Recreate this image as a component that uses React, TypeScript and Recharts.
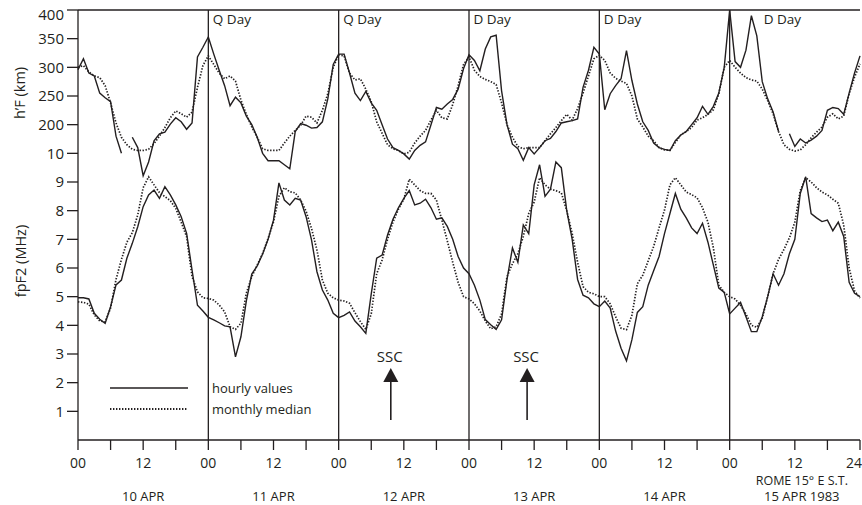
import React from 'react';
import { ComposedChart, Line, XAxis, YAxis, ReferenceLine, ReferenceDot } from 'recharts';

const INK = '#231f20';
const FONT = '"Open Sans", "Liberation Sans", sans-serif';

// h'F hourly values (km), hours 0..144 (10 APR 00 .. 15 APR 24); null = no data
const hfHourly: (number | null)[] = [
  296, 315, 290, 285, 255, 247, 240, 180, 150, null, 178, 160, 111, 135, 172, 184, 187, 201, 212, 205, 192, 203, 318, 335,
  353, 323, 295, 268, 233, 248, 238, 215, 200, 178, 150, 137, 137, 137, 130, 123, 188, 202, 199, 194, 195, 205, 245, 305,
  323, 323, 290, 255, 242, 258, 238, 225, 200, 175, 160, 155, 149, 140, 155, 164, 170, 200, 230, 227, 236, 244, 262, 298,
  322, 312, 294, 332, 353, 356, 259, 200, 166, 158, 138, 160, 149, 160, 172, 176, 188, 203, 205, 207, 210, 265, 295, 335,
  323, 226, 254, 268, 280, 329, 277, 236, 205, 190, 168, 160, 157, 155, 172, 182, 188, 200, 212, 232, 218, 232, 255, 300,
  400, 310, 300, 330, 390, 355, 275, 245, 222, 188, null, 184, 162, 175, 168, 173, 180, 190, 225, 230, 228, 218, 255, 290, 320,
];

// h'F monthly median (km)
const hfMedian: number[] = [
  300, 303, 292, 285, 282, 268, 238, 203, 178, 165, 157, 155, 155, 157, 167, 180, 195, 212, 224, 219, 213, 222, 265, 303,
  320, 305, 290, 280, 285, 276, 243, 218, 196, 178, 158, 155, 155, 155, 168, 180, 190, 199, 215, 213, 203, 225, 254, 300,
  322, 320, 290, 278, 280, 262, 240, 205, 185, 165, 158, 155, 149, 152, 168, 180, 190, 208, 225, 212, 210, 235, 268, 305,
  318, 295, 284, 279, 275, 270, 238, 200, 178, 162, 158, 160, 160, 160, 172, 184, 195, 207, 218, 208, 228, 255, 285, 315,
  321, 312, 290, 281, 276, 272, 250, 210, 196, 180, 172, 160, 156, 155, 169, 182, 188, 195, 208, 212, 218, 226, 254, 300,
  312, 300, 290, 282, 278, 276, 262, 242, 219, 188, 165, 157, 154, 156, 165, 177, 187, 196, 213, 219, 210, 215, 254, 283, 306,
];

// fpF2 hourly values (MHz)
const foHourly: number[] = [
  4.96, 4.96, 4.92, 4.42, 4.21, 4.07, 4.65, 5.41, 5.58, 6.34, 6.86, 7.44, 8.14, 8.55, 8.72, 8.43, 8.84, 8.55, 8.2, 7.79, 7.21, 5.93, 4.7, 4.5,
  4.28, 4.19, 4.09, 3.98, 3.95, 2.9, 3.6, 4.85, 5.79, 6.07, 6.49, 7.0, 7.67, 8.97, 8.37, 8.2, 8.43, 8.37, 7.79, 6.98, 5.87, 5.23, 4.88, 4.42,
  4.27, 4.35, 4.47, 4.15, 3.95, 3.72, 5.1, 6.34, 6.45, 7.15, 7.7, 8.1, 8.43, 8.7, 8.2, 8.26, 8.4, 8.1, 7.7, 7.75, 7.45, 7.0, 6.4, 6.0,
  5.8, 5.4, 4.88, 4.2, 4.02, 3.86, 4.19, 5.6, 6.7, 6.2, 7.5, 7.2, 8.9, 9.6, 8.5, 8.75, 9.7, 9.5, 8.0, 7.0, 5.6, 5.05, 4.96, 4.75,
  4.65, 4.85, 4.6, 3.8, 3.2, 2.76, 3.5, 4.45, 4.65, 5.4, 5.9, 6.4, 7.2, 7.9, 8.6, 8.05, 7.75, 7.4, 7.2, 7.56, 6.9, 6.1, 5.3, 5.15,
  4.4, 4.6, 4.8, 4.3, 3.78, 3.78, 4.3, 5.0, 5.8, 5.4, 5.8, 6.5, 7.0, 8.6, 9.18, 7.9, 7.75, 7.62, 7.67, 7.3, 7.6, 7.1, 5.5, 5.12, 5.0,
];

// fpF2 monthly median (MHz)
const foMedian: number[] = [
  4.82, 4.8, 4.74, 4.36, 4.15, 4.12, 4.6, 5.6, 6.3, 6.9, 7.23, 7.85, 8.8, 9.18, 8.9, 8.63, 8.49, 8.35, 8.08, 7.6, 7.09, 5.7, 5.17, 4.96,
  4.94, 4.88, 4.71, 4.47, 3.95, 3.86, 4.07, 5.12, 5.7, 6.1, 6.51, 7.03, 7.61, 8.5, 8.8, 8.66, 8.62, 8.37, 7.98, 7.38, 6.63, 5.58, 5.12, 4.96,
  4.88, 4.85, 4.77, 4.44, 4.13, 3.86, 4.4, 5.8, 6.28, 7.0, 7.6, 8.05, 8.4, 9.1, 8.9, 8.7, 8.6, 8.6, 8.37, 7.67, 6.95, 6.2, 5.5, 5.0,
  4.92, 4.75, 4.5, 4.15, 3.88, 3.95, 4.4, 5.7, 6.15, 6.5, 7.1, 7.9, 8.3, 9.15, 8.9, 8.75, 8.7, 8.62, 8.0, 7.2, 6.2, 5.35, 5.15, 5.1,
  5.0, 5.0, 4.75, 4.3, 3.9, 3.85, 4.35, 5.45, 5.75, 6.25, 6.75, 7.4, 8.02, 8.9, 9.15, 8.9, 8.65, 8.56, 8.45, 8.1, 7.6, 6.7, 5.4, 5.15,
  5.0, 4.92, 4.7, 4.4, 4.0, 3.93, 4.25, 5.0, 5.8, 6.3, 6.65, 7.05, 7.6, 8.7, 9.15, 9.0, 8.8, 8.65, 8.55, 8.4, 8.26, 7.5, 6.0, 5.2, 4.95,
];

const dayLabels = ['10 APR', '11 APR', '12 APR', '13 APR', '14 APR', '15 APR 1983'];
const stationNote = 'ROME 15° E S.T.';
const dayStarts = [24, 48, 72, 96, 120];
const dayTags = ['Q Day', 'Q Day', 'D Day', 'D Day', 'D Day'];
const sscHours = [57.6, 82.7];
const xTicks = [0, 6, 12, 18, 24, 30, 36, 42, 48, 54, 60, 66, 72, 78, 84, 90, 96, 102, 108, 114, 120, 126, 132, 138, 144];
const xTickText = ['00', '', '12', '', '00', '', '12', '', '00', '', '12', '', '00', '', '12', '', '00', '', '12', '', '00', '', '12', '', '24'];
const yTicks = [1, 2, 3, 4, 5, 6, 7, 8, 9, 10, 11, 12, 13, 14, 15];
const yTickText = ['1', '2', '3', '4', '5', '6', '7', '8', '9', '10', '200', '250', '300', '350', '400'];
const legendItems = ['hourly values', 'monthly median'];

const data = hfHourly.map((_, t) => ({
  t,
  hfHourly: hfHourly[t],
  hfMedian: hfMedian[t],
  foHourly: foHourly[t],
  foMedian: foMedian[t],
}));

const DOT = '1.4 1.6';

const YTick = (props: any) => {
  const { x, y, payload } = props;
  const i = yTicks.indexOf(payload.value);
  const top = payload.value === yTicks[yTicks.length - 1];
  return (
    <text x={x} y={y + (top ? 9.5 : 5.3)} textAnchor="end" fontSize={15} fontFamily={FONT} fill={INK}>
      {yTickText[i]}
    </text>
  );
};

const XTick = (props: any) => {
  const { x, y, payload } = props;
  const v = payload.value;
  const i = xTicks.indexOf(v);
  const txt = xTickText[i];
  const isEnd = i === xTicks.length - 1;
  const parts: React.ReactNode[] = [];
  if (txt) {
    parts.push(
      <text key="h" x={isEnd ? x + 2 : x} y={y + 16} textAnchor={isEnd ? 'end' : 'middle'} fontSize={14} fontFamily={FONT} fill={INK}>
        {txt}
      </text>
    );
  }
  if (v % 24 === 12) {
    const d = (v - 12) / 24;
    const lastDay = d === dayLabels.length - 1;
    const cx = lastDay ? x + 7 : x;
    if (lastDay) {
      parts.push(
        <text key="n" x={cx} y={y + 32.5} textAnchor="middle" fontSize={12.5} fontFamily={FONT} fill={INK}>
          {stationNote}
        </text>
      );
    }
    parts.push(
      <text key="d" x={cx} y={y + 49} textAnchor="middle" fontSize={13} fontFamily={FONT} fill={INK}>
        {dayLabels[d]}
      </text>
    );
  }
  return <g>{parts}</g>;
};

const makeTag = (text: string, shift: number) => (props: any) => {
  const { cx, cy } = props;
  return (
    <text x={cx + shift} y={cy + 14} fontSize={13.5} fontFamily={FONT} fill={INK}>
      {text}
    </text>
  );
};

const SscMark = (props: any) => {
  const { cx, cy } = props;
  return (
    <g>
      <text x={cx - 1} y={cy - 78} textAnchor="middle" fontSize={15} fontFamily={FONT} fill={INK}>
        SSC
      </text>
      <polygon points={`${cx},${cy - 72} ${cx - 7.5},${cy - 58} ${cx + 7.5},${cy - 58}`} fill={INK} />
      <line x1={cx} x2={cx} y1={cy - 58} y2={cy - 20} stroke={INK} strokeWidth={1.6} />
    </g>
  );
};

export default function App() {
  return (
    <div style={{ position: 'absolute', left: 0, top: 0, width: 862, height: 505, background: '#fff' }}>
      <ComposedChart width={862} height={505} data={data} margin={{ top: 10, right: 2, bottom: 0, left: 0 }}>
        <XAxis
          dataKey="t"
          type="number"
          domain={[0, 144]}
          ticks={xTicks}
          interval={0}
          height={65}
          tickSize={10}
          tickMargin={2}
          tick={<XTick />}
          axisLine={{ stroke: INK, strokeWidth: 1.3 }}
          tickLine={{ stroke: INK, strokeWidth: 1.3 }}
        />
        <YAxis
          yAxisId="f"
          type="number"
          domain={[0, 15]}
          ticks={yTicks}
          interval={0}
          width={78}
          tickSize={11}
          tickMargin={3}
          tick={<YTick />}
          axisLine={{ stroke: INK, strokeWidth: 1.3 }}
          tickLine={{ stroke: INK, strokeWidth: 1.3 }}
        />
        <YAxis yAxisId="h" type="number" domain={[-350, 400]} hide allowDataOverflow />

        <ReferenceLine yAxisId="f" y={15} stroke={INK} strokeWidth={1.3} />
        {dayStarts.map((d) => (
          <ReferenceLine key={d} yAxisId="f" x={d} stroke={INK} strokeWidth={1.3} />
        ))}

        <Line yAxisId="h" dataKey="hfMedian" type="linear" stroke={INK} strokeWidth={1.7} strokeDasharray={DOT} dot={false} isAnimationActive={false} />
        <Line yAxisId="h" dataKey="hfHourly" type="linear" stroke={INK} strokeWidth={1.4} dot={false} connectNulls={false} isAnimationActive={false} />
        <Line yAxisId="f" dataKey="foMedian" type="linear" stroke={INK} strokeWidth={1.7} strokeDasharray={DOT} dot={false} isAnimationActive={false} />
        <Line yAxisId="f" dataKey="foHourly" type="linear" stroke={INK} strokeWidth={1.4} dot={false} isAnimationActive={false} />

        {dayStarts.map((d, i) => (
          <ReferenceDot
            key={'tag' + d}
            yAxisId="f"
            x={d}
            y={15}
            shape={makeTag(dayTags[i], i === dayStarts.length - 1 ? 34 : 4.5)}
          />
        ))}
        {sscHours.map((h) => (
          <ReferenceDot key={'ssc' + h} yAxisId="f" x={h} y={0} shape={SscMark} />
        ))}
      </ComposedChart>

      <svg width={862} height={505} style={{ position: 'absolute', left: 0, top: 0, pointerEvents: 'none' }}>
        <text transform="translate(19,93) rotate(-90)" textAnchor="middle" dominantBaseline="central" fontSize={14.5} fontFamily={FONT} fill={INK}>
          h’F (km)
        </text>
        <text transform="translate(20,261) rotate(-90)" textAnchor="middle" dominantBaseline="central" fontSize={14.5} fontFamily={FONT} fill={INK}>
          fpF2 (MHz)
        </text>
        <line x1={110} x2={188} y1={388} y2={388} stroke={INK} strokeWidth={1.6} />
        <line x1={110} x2={188} y1={409} y2={409} stroke={INK} strokeWidth={1.8} strokeDasharray={DOT} />
        <text x={212} y={392.5} fontSize={13} fontFamily={FONT} fill={INK}>
          {legendItems[0]}
        </text>
        <text x={212} y={413.5} fontSize={13} fontFamily={FONT} fill={INK}>
          {legendItems[1]}
        </text>
      </svg>
    </div>
  );
}
